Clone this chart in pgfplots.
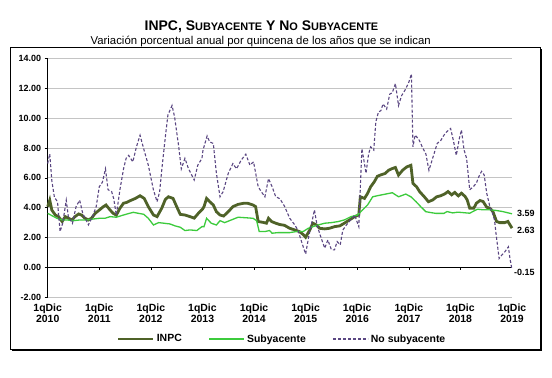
\documentclass[border=0pt]{standalone}
\usepackage{pgfplots}
\pgfplotsset{compat=1.18}
\usepackage{fontspec}
\setmainfont{Liberation Sans}
\definecolor{inpc}{HTML}{4F6228}
\definecolor{suby}{HTML}{3CCB3C}
\definecolor{nosub}{HTML}{5A4682}
\definecolor{gridc}{HTML}{C4C4C4}
\newcommand\bigc[1]{{\fontsize{14}{16}\selectfont #1}}
\newcommand\smc[1]{{\fontsize{11}{13}\selectfont #1}}
\begin{document}
\begin{tikzpicture}[x=1bp,y=1bp]
\path[use as bounding box] (0,0) rectangle (552,377);
\fill[black] (11.8,26.2) rectangle (541.5,328.2);
\filldraw[fill=white,draw=black,line width=0.7bp] (10,28) rectangle (540,330);
\node[anchor=base,font=\bfseries,inner sep=0] at (261.5,346.3) {\bigc{INPC, S}\smc{UBYACENTE}\bigc{ Y N}\smc{O}\bigc{ S}\smc{UBYACENTE}};
\node[anchor=base,inner sep=0] at (260.7,333) {\fontsize{11.4}{13}\selectfont Variación porcentual anual por quincena de los años que se indican};
\begin{axis}[
  at={(47.7bp,79.7bp)}, anchor=south west,
  scale only axis, width=464.3bp, height=239bp,
  xmin=0, xmax=9, ymin=-2, ymax=14,
  clip=false,
  axis lines*=left, axis line style={-, black, line width=0.8bp},
  x axis line style={draw=none},
  xtick={0,1,...,9},
  xticklabels={{1qDic\\2010},{1qDic\\2011},{1qDic\\2012},{1qDic\\2013},{1qDic\\2014},{1qDic\\2015},{1qDic\\2016},{1qDic\\2017},{1qDic\\2018},{1qDic\\2019}},
  xticklabel style={align=center, font=\bfseries\fontsize{10.5}{11}\selectfont},
  xtick style={draw=none},
  ytick={-2,0,...,14},
  ytick style={draw=black, line width=0.6bp},
  tick align=outside, major tick length=3bp,
  scaled y ticks=false,
  yticklabel style={/pgf/number format/.cd, fixed, fixed zerofill, precision=2, assume math mode=true, /tikz/.cd, font=\bfseries\fontsize{9}{10}\selectfont},
  ymajorgrids, grid style={gridc, line width=0.8bp},
  legend style={at={(0.505,-0.1745)}, anchor=center, legend columns=-1, draw=none, fill=none,
    font=\bfseries\fontsize{10.5}{12}\selectfont,
    /tikz/every even column/.append style={column sep=25bp}},
  legend image code/.code={\draw[#1] (0bp,0bp) -- (35bp,0bp);},
]
\draw[black, line width=0.8bp] (axis cs:0,0) -- (axis cs:9,0);
\pgfplotsinvokeforeach{1,...,8}{\draw[black,line width=0.6bp] (axis cs:#1,0) -- ++(0bp,-3bp);}
\addplot[inpc, line width=2.8bp] coordinates {
(0,4.07) (0.04,4.5) (0.08,3.84) (0.15,3.5) (0.21,3.4) (0.28,3.07) (0.34,3.4) (0.40,3.3) (0.47,3.18) (0.53,3.4) (0.60,3.58) (0.66,3.5) (0.72,3.3) (0.79,3.18) (0.85,3.3) (0.92,3.62) (1.0,3.84) (1.08,4.07) (1.13,4.18) (1.21,3.84) (1.27,3.62) (1.33,3.5) (1.40,3.96) (1.47,4.3) (1.53,4.35) (1.60,4.47) (1.70,4.62) (1.79,4.8) (1.87,4.62) (1.95,4.07) (2.05,3.51) (2.12,3.4) (2.21,3.96) (2.28,4.55) (2.34,4.73) (2.43,4.62) (2.50,4.07) (2.57,3.55) (2.66,3.51) (2.76,3.4) (2.84,3.3) (2.92,3.62) (3.0,3.9) (3.03,4.07) (3.08,4.62) (3.14,4.4) (3.21,4.18) (3.27,3.73) (3.34,3.51) (3.41,3.44) (3.50,3.73) (3.59,4.07) (3.69,4.22) (3.79,4.29) (3.88,4.29) (3.98,4.18) (4.03,4.07) (4.08,3.07) (4.17,3.02) (4.24,2.96) (4.28,3.29) (4.34,3.07) (4.42,2.96) (4.50,2.87) (4.59,2.82) (4.69,2.62) (4.79,2.51) (4.88,2.4) (4.96,2.18) (5.0,2.02) (5.08,2.51) (5.14,2.96) (5.21,2.84) (5.27,2.62) (5.37,2.58) (5.46,2.62) (5.56,2.73) (5.66,2.78) (5.75,2.96) (5.85,3.18) (5.95,3.4) (6.03,3.51) (6.06,4.73) (6.14,4.62) (6.20,4.95) (6.26,5.4) (6.33,5.73) (6.39,6.1) (6.46,6.2) (6.54,6.29) (6.61,6.51) (6.68,6.62) (6.74,6.69) (6.80,6.18) (6.88,6.51) (6.96,6.73) (7.04,6.84) (7.08,5.62) (7.15,5.4) (7.21,5.07) (7.30,4.73) (7.38,4.4) (7.46,4.51) (7.54,4.73) (7.62,4.8) (7.70,4.93) (7.76,5.08) (7.83,4.86) (7.89,5.02) (7.96,4.79) (8.02,4.97) (8.09,4.75) (8.13,4.53) (8.18,3.97) (8.26,3.97) (8.31,4.3) (8.38,4.48) (8.44,4.41) (8.51,4.03) (8.57,3.97) (8.63,3.74) (8.70,3.08) (8.76,3.0) (8.86,3.0) (8.92,3.08) (9.0,2.63)
};
\addlegendentry{INPC}
\addplot[suby, line width=1.3bp] coordinates {
(0,3.62) (0.08,3.47) (0.18,3.29) (0.28,3.18) (0.37,3.18) (0.5,3.13) (0.63,3.18) (0.76,3.18) (0.88,3.24) (1.0,3.29) (1.11,3.29) (1.21,3.4) (1.33,3.36) (1.47,3.51) (1.54,3.58) (1.66,3.69) (1.76,3.62) (1.86,3.56) (1.95,3.29) (2.05,2.84) (2.15,3.0) (2.25,2.96) (2.37,2.91) (2.47,2.78) (2.57,2.69) (2.66,2.47) (2.76,2.51) (2.89,2.47) (2.99,2.73) (3.03,2.73) (3.08,3.29) (3.17,2.96) (3.27,2.84) (3.34,3.13) (3.43,3.0) (3.56,3.18) (3.69,3.36) (3.82,3.33) (3.98,3.29) (4.05,3.13) (4.10,2.4) (4.21,2.4) (4.30,2.47) (4.35,2.29) (4.46,2.33) (4.60,2.33) (4.69,2.33) (4.82,2.4) (4.95,2.4) (5.05,2.62) (5.14,2.73) (5.24,2.84) (5.37,2.96) (5.50,3.0) (5.63,3.07) (5.75,3.18) (5.88,3.4) (6.0,3.5) (6.10,3.84) (6.20,4.18) (6.30,4.73) (6.39,4.8) (6.52,4.89) (6.68,5.0) (6.80,4.73) (6.94,4.91) (7.04,4.73) (7.14,4.4) (7.23,4.07) (7.33,3.73) (7.43,3.67) (7.52,3.62) (7.68,3.62) (7.74,3.74) (7.85,3.65) (7.95,3.7) (8.08,3.66) (8.18,3.63) (8.33,3.9) (8.43,3.86) (8.57,3.86) (8.70,3.81) (8.82,3.74) (9.0,3.59)
};
\addlegendentry{Subyacente}
\addplot[nosub, line width=1.1bp, dash pattern=on 3bp off 2bp] coordinates {
(0,6.96) (0.04,7.6) (0.08,5.8) (0.13,4.7) (0.19,4.4) (0.24,2.4) (0.29,2.95) (0.36,4.5) (0.40,3.4) (0.48,2.95) (0.55,4.07) (0.62,4.5) (0.68,3.6) (0.79,2.85) (0.88,3.5) (0.94,4.07) (1.0,5.4) (1.06,5.7) (1.12,6.6) (1.17,5.2) (1.24,5.07) (1.28,4.6) (1.33,3.5) (1.40,5.2) (1.47,6.6) (1.52,7.3) (1.57,7.5) (1.65,7.07) (1.72,8.07) (1.79,8.85) (1.86,7.95) (1.95,6.85) (2.05,5.18) (2.12,4.4) (2.17,5.07) (2.21,6.5) (2.28,8.73) (2.33,10.2) (2.41,10.84) (2.46,10.07) (2.54,8.07) (2.59,6.6) (2.66,7.3) (2.73,6.6) (2.84,5.85) (2.91,6.85) (2.99,7.3) (3.01,7.85) (3.09,8.8) (3.14,8.4) (3.21,8.3) (3.27,6.3) (3.34,4.73) (3.40,5.07) (3.50,6.3) (3.59,6.95) (3.66,6.6) (3.75,7.18) (3.84,7.58) (3.92,6.85) (3.99,7.07) (4.08,5.4) (4.14,5.07) (4.21,4.73) (4.28,5.95) (4.35,5.4) (4.42,4.73) (4.50,4.6) (4.59,4.1) (4.69,3.3) (4.79,2.84) (4.85,2.5) (4.92,1.73) (5.0,0.9) (5.06,2.07) (5.13,3.18) (5.17,3.85) (5.22,2.84) (5.28,2.18) (5.37,1.29) (5.43,1.84) (5.50,1.18) (5.56,1.18) (5.61,1.73) (5.67,1.51) (5.72,2.5) (5.79,2.84) (5.87,3.18) (5.95,3.5) (6.03,2.73) (6.09,7.95) (6.14,6.95) (6.17,6.3) (6.22,7.6) (6.26,8.07) (6.32,7.85) (6.36,9.73) (6.41,10.4) (6.46,10.5) (6.50,10.95) (6.57,10.6) (6.63,11.6) (6.68,11.7) (6.74,12.3) (6.80,10.84) (6.86,11.5) (6.94,11.95) (7.0,12.4) (7.05,12.95) (7.08,8.07) (7.12,8.85) (7.19,8.6) (7.26,8.07) (7.33,7.6) (7.39,6.5) (7.47,7.4) (7.55,8.3) (7.62,8.5) (7.68,8.85) (7.74,9.1) (7.81,9.3) (7.86,8.55) (7.92,7.5) (7.98,8.65) (8.02,9.2) (8.07,7.87) (8.12,7.3) (8.18,5.2) (8.25,5.4) (8.31,5.65) (8.36,6.1) (8.41,6.43) (8.46,6.2) (8.51,4.97) (8.57,4.08) (8.62,3.64) (8.66,3.19) (8.69,2.27) (8.75,0.6) (8.80,0.82) (8.86,1.04) (8.93,1.38) (8.96,0.6) (9.0,-0.15)
};
\addlegendentry{No subyacente}
\node[anchor=west, inner sep=0, xshift=5bp, font=\bfseries\fontsize{9}{10}\selectfont] at (axis cs:9,3.59) {3.59};
\node[anchor=west, inner sep=0, xshift=5bp, font=\bfseries\fontsize{9}{10}\selectfont] at (axis cs:9,2.45) {2.63};
\node[anchor=west, inner sep=0, xshift=2bp, font=\bfseries\fontsize{9}{10}\selectfont] at (axis cs:9,-0.33) {-0.15};
\end{axis}
\end{tikzpicture}
\end{document}
